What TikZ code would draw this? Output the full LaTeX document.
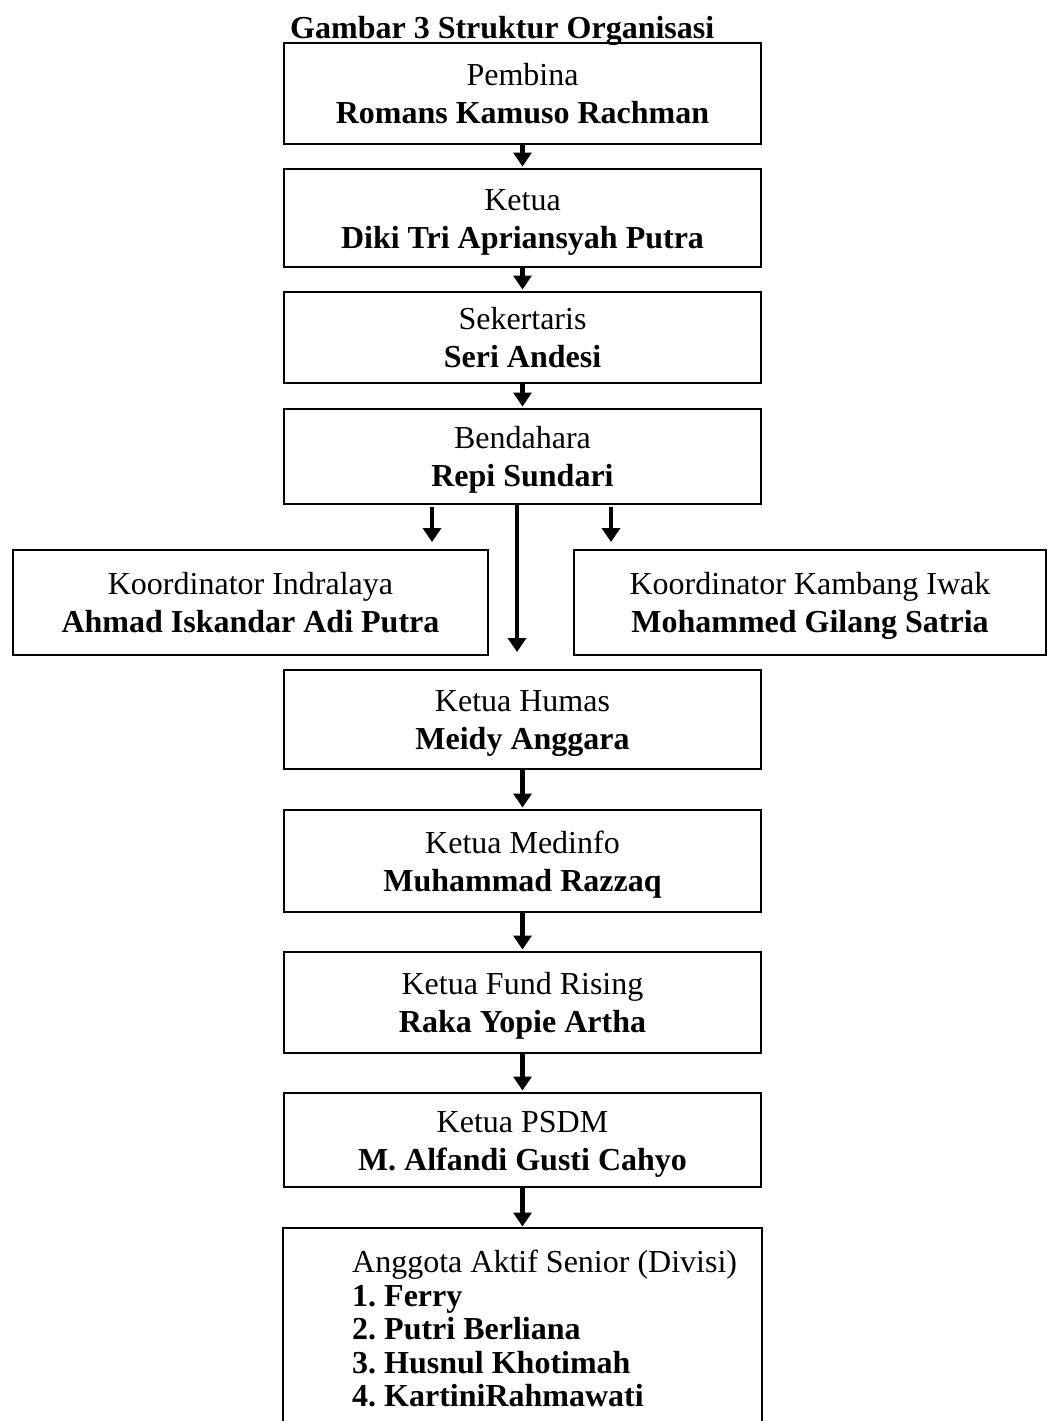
\documentclass[tikz,border=0pt]{standalone}
\usepackage{fontspec}
\setmainfont{Liberation Serif}
\usetikzlibrary{arrows.meta}
\frenchspacing
\newcommand{\boxstrut}{\rule[-7pt]{0pt}{36pt}}
\newcommand{\twoline}[2]{\boxstrut #1\\\boxstrut\textbf{#2}}
\tikzset{
  orgbox/.style={draw=black, line width=2pt, minimum width=477pt, align=center,
    inner sep=0pt, font=\fontsize{32}{38}\selectfont},
  arr/.style={line width=4.5pt, -{Triangle[width=18pt,length=14pt]}},
}
\begin{document}
\begin{tikzpicture}[x=1pt,y=-1pt]
\useasboundingbox (0,0) rectangle (1051,1421);
\node[anchor=base west, inner sep=0pt, font=\fontsize{32}{36.8}\selectfont\bfseries] (title) at (290,39) {Gambar 3 Struktur Organisasi};

\node[orgbox, minimum height=101pt] (pembina) at (522.5,93.5) {\twoline{Pembina}{Romans Kamuso Rachman}};
\node[orgbox, minimum height=98pt] (ketua) at (522.5,218) {\twoline{Ketua}{Diki Tri Apriansyah Putra}};
\node[orgbox, minimum height=91pt] (sekretaris) at (522.5,337.5) {\twoline{Sekertaris}{Seri Andesi}};
\node[orgbox, minimum height=95pt] (bendahara) at (522.5,456.5) {\twoline{Bendahara}{Repi Sundari}};
\node[orgbox, minimum height=105pt, minimum width=475pt] (koordL) at (250.5,602.5) {\twoline{Koordinator Indralaya}{Ahmad Iskandar Adi Putra}};
\node[orgbox, minimum height=105pt, minimum width=472pt] (koordR) at (810,602.5) {\twoline{Koordinator Kambang Iwak}{Mohammed Gilang Satria}};
\node[orgbox, minimum height=99pt] (humas) at (522.5,719.5) {\twoline{Ketua Humas}{Meidy Anggara}};
\node[orgbox, minimum height=102pt] (medinfo) at (522.5,861) {\twoline{Ketua Medinfo}{Muhammad Razzaq}};
\node[orgbox, minimum height=101pt] (fund) at (522.5,1002.5) {\twoline{Ketua Fund Rising}{Raka Yopie Artha}};
\node[orgbox, minimum height=94pt] (psdm) at (522.5,1140) {\twoline{Ketua PSDM}{M. Alfandi Gusti Cahyo}};
\node[orgbox, draw=none, minimum height=211pt] (anggota) at (522.5,1334.5) {};
\draw[line width=2pt] (anggota.south west) -- (anggota.north west) -- (anggota.north east) -- (anggota.south east);
\node[anchor=north west, inner sep=0pt, align=left, font=\fontsize{32}{33.5}\selectfont] (members) at (352,1250)
  {Anggota Aktif Senior (Divisi)\\\textbf{1. Ferry}\\\textbf{2. Putri Berliana}\\\textbf{3. Husnul Khotimah}\\\textbf{4. KartiniRahmawati}};

\draw[arr, shorten >=1.5pt] (pembina) -- (ketua);
\draw[arr, shorten >=1.5pt] (ketua) -- (sekretaris);
\draw[arr, shorten >=1.5pt] (sekretaris) -- (bendahara);
\draw[arr, shorten <=2pt, shorten >=7pt] ([xshift=-90.5pt]bendahara.south) -- ([xshift=-90.5pt]bendahara.south |- koordL.north);
\draw[arr, shorten <=2pt, shorten >=7pt] ([xshift=88.5pt]bendahara.south) -- ([xshift=88.5pt]bendahara.south |- koordR.north);
\draw[arr, shorten >=17pt] ([xshift=-5.5pt]bendahara.south) -- ([xshift=-5.5pt]bendahara.south |- humas.north);
\draw[arr, shorten >=1.5pt] (humas) -- (medinfo);
\draw[arr, shorten >=1.5pt] (medinfo) -- (fund);
\draw[arr, shorten >=1.5pt] (fund) -- (psdm);
\draw[arr, shorten >=1.5pt] (psdm) -- (anggota);
\end{tikzpicture}
\end{document}
